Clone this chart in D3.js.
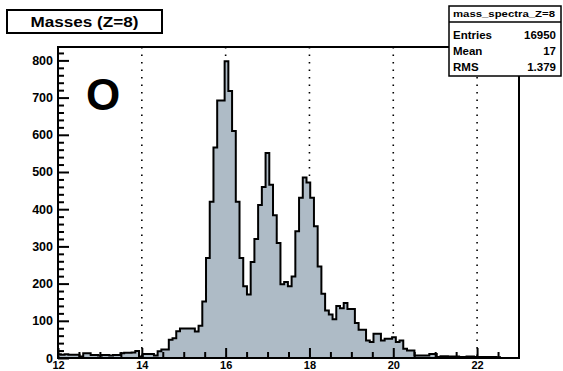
<!DOCTYPE html>
<html><head><meta charset="utf-8">
<script src="https://cdn.jsdelivr.net/npm/d3@7"></script>
<style>
html,body{margin:0;padding:0;background:#fff;}
svg{display:block;}
text{font-family:"Liberation Sans",Arial,Helvetica,sans-serif;font-weight:bold;fill:#000;}
</style>
</head><body>
<svg id="chart" width="563" height="371"></svg>
<script>
// ---- data ----
const binLow = 11.98;
const binWidth = 0.0888;
const counts = [
  10, 9, 10, 9, 9, 9, 4, 13, 13, 8,
  8, 7, 8, 8, 7, 8, 8, 13, 14, 14,
  15, 19, 4, 11, 11, 11, 7, 18, 23, 23,
  49, 53, 72, 79, 79, 79, 79, 71, 87, 152,
  269, 420, 566, 692, 692, 798, 718, 610, 420, 269,
  193, 171, 258, 320, 411, 460, 551, 466, 384, 309,
  198, 204, 193, 219, 341, 431, 485, 472, 431, 354,
  246, 173, 128, 117, 104, 140, 134, 148, 132, 132,
  94, 76, 76, 47, 43, 65, 65, 47, 52, 52,
  56, 43, 47, 25, 20, 20, 7, 7, 7, 7,
  11, 11, 3, 5, 5, 4, 4, 4, 3, 3,
  4, 4, 3, 3, 3, 3, 3, 3, 2, 0,
  0, 0, 0, 0, 0
];
const xMajorTicks = [12, 14, 16, 18, 20, 22];
const xTickLabels = ["12", "14", "16", "18", "20", "22"];
const xMinorTicks = [12.5,13,13.5,14.5,15,15.5,16.5,17,17.5,18.5,19,19.5,20.5,21,21.5,22.5];
const yMajorTicks = [0, 100, 200, 300, 400, 500, 600, 700, 800];
const yMinorTicks = [20,40,60,80,120,140,160,180,220,240,260,280,320,340,360,380,420,440,460,480,520,540,560,580,620,640,660,680,720,740,760,780,820];
const gridLines = [14, 16, 18, 20, 22];
const titleText = "Masses (Z=8)";
const statsName = "mass_spectra_Z=8";
const statsLabels = ["Entries", "Mean", "RMS"];
const statsValues = ["16950", "17", "1.379"];
const markerLabel = "O";

// ---- layout ----
const svg = d3.select("#chart");
const frame = {l: 58, r: 519, t: 47, b: 358};
const x = d3.scaleLinear().domain([12, 23]).range([frame.l, frame.r]);
const y = d3.scaleLinear().domain([0, 836]).range([frame.b, frame.t]);
const fillColor = "#aebbc6";

svg.append("rect").attr("width", 563).attr("height", 371).attr("fill", "#fff");

svg.append("clipPath").attr("id", "frameClip")
  .append("rect").attr("x", frame.l).attr("y", frame.t)
  .attr("width", frame.r - frame.l).attr("height", frame.b - frame.t);

// grid (dotted)
svg.append("g").selectAll("line").data(gridLines).join("line")
  .attr("x1", d => x(d)).attr("x2", d => x(d))
  .attr("y1", frame.t).attr("y2", frame.b)
  .attr("stroke", "#000").attr("stroke-width", 1.6)
  .attr("stroke-dasharray", "1.6,5.9");

// histogram
const pts = counts.map((c, i) => ({x: binLow + i * binWidth, v: c}));
pts.push({x: binLow + counts.length * binWidth, v: counts[counts.length - 1]});
const g = svg.append("g").attr("clip-path", "url(#frameClip)");
const area = d3.area().curve(d3.curveStepAfter)
  .x(d => x(d.x)).y0(y(0)).y1(d => y(d.v));
const line = d3.line().curve(d3.curveStepAfter)
  .x(d => x(d.x)).y(d => y(d.v));
g.append("path").datum(pts).attr("d", area).attr("fill", fillColor);
g.append("path").datum(pts).attr("d", line)
  .attr("fill", "none").attr("stroke", "#000").attr("stroke-width", 2)
  .attr("stroke-linejoin", "miter");

// axes
const xAxisMajor = d3.axisBottom(x).tickValues(xMajorTicks)
  .tickFormat((d, i) => xTickLabels[i]).tickSize(-10).tickPadding(3);
const xAxisMinor = d3.axisBottom(x).tickValues(xMinorTicks)
  .tickFormat("").tickSize(-6);
const yAxisMajor = d3.axisLeft(y).tickValues(yMajorTicks)
  .tickFormat(d3.format("d")).tickSize(-11).tickPadding(5);
const yAxisMinor = d3.axisLeft(y).tickValues(yMinorTicks)
  .tickFormat("").tickSize(-6);

function styleAxis(sel, size) {
  sel.select(".domain").remove();
  sel.selectAll("line").attr("stroke", "#000").attr("stroke-width", 2);
  sel.selectAll("text").style("font-size", size)
    .style("font-family", '"Liberation Sans",Arial,sans-serif').style("font-weight", "bold");
}
svg.append("g").attr("transform", `translate(0,${frame.b})`).call(xAxisMinor).call(styleAxis, "11px");
svg.append("g").attr("transform", `translate(0,${frame.b})`).call(xAxisMajor).call(styleAxis, "11px");
svg.append("g").attr("transform", `translate(${frame.l},0)`).call(yAxisMinor).call(styleAxis, "12.5px");
svg.append("g").attr("transform", `translate(${frame.l},0)`).call(yAxisMajor).call(styleAxis, "12.5px");

// frame
svg.append("rect").attr("x", frame.l).attr("y", frame.t)
  .attr("width", frame.r - frame.l).attr("height", frame.b - frame.t)
  .attr("fill", "none").attr("stroke", "#000").attr("stroke-width", 2);

// big marker label
svg.append("text").attr("x", 103).attr("y", 110).attr("text-anchor", "middle")
  .style("font-size", "44px").text(markerLabel);

// title box
svg.append("rect").attr("x", 7).attr("y", 10).attr("width", 155).attr("height", 23)
  .attr("fill", "#fff").attr("stroke", "#000").attr("stroke-width", 2);
svg.append("text").attr("x", 84.5).attr("y", 26.5).attr("text-anchor", "middle")
  .attr("textLength", 108).attr("lengthAdjust", "spacingAndGlyphs")
  .style("font-size", "14.5px").text(titleText);

// stats box
const sb = {x: 449, y: 6, w: 112, h: 70, head: 16};
svg.append("rect").attr("x", sb.x).attr("y", sb.y).attr("width", sb.w).attr("height", sb.h)
  .attr("fill", "#fff").attr("stroke", "#000").attr("stroke-width", 1.5);
svg.append("line").attr("x1", sb.x).attr("x2", sb.x + sb.w)
  .attr("y1", sb.y + sb.head).attr("y2", sb.y + sb.head)
  .attr("stroke", "#000").attr("stroke-width", 1.5);
svg.append("text").attr("x", 453).attr("y", sb.y + 11)
  .attr("textLength", 102).attr("lengthAdjust", "spacingAndGlyphs")
  .style("font-size", "8.5px").text(statsName);
const rowY = [39, 55, 71];
statsLabels.forEach((lab, i) => {
  svg.append("text").attr("x", 453).attr("y", rowY[i])
    .style("font-size", "11.5px").text(lab);
  svg.append("text").attr("x", 556).attr("y", rowY[i]).attr("text-anchor", "end")
    .style("font-size", "11.5px").text(statsValues[i]);
});
</script>
</body></html>
